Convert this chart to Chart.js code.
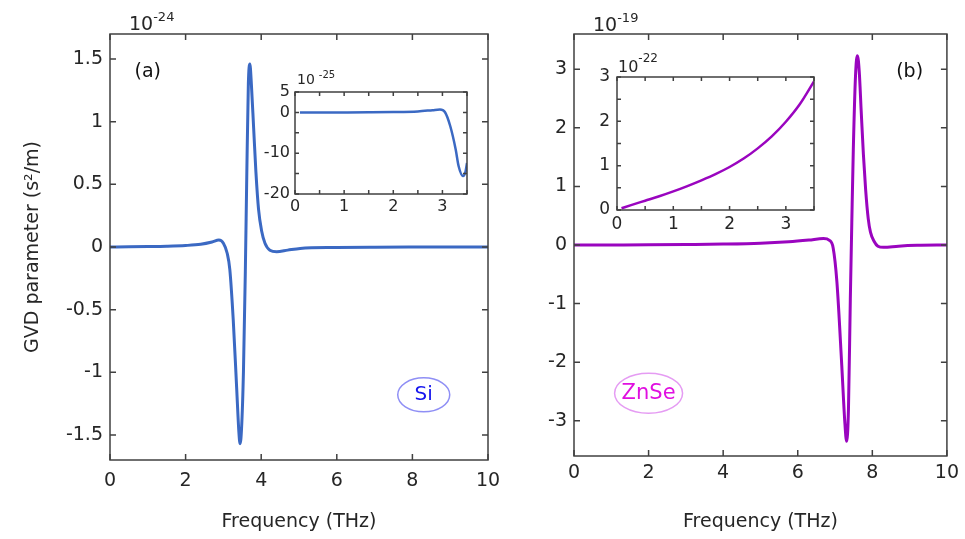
<!DOCTYPE html>
<html>
<head>
<meta charset="utf-8">
<script src="https://cdn.jsdelivr.net/npm/chart.js@4.4.1/dist/chart.umd.min.js"></script>
<style>
  body { margin: 0; background: #fff; }
  #wrap { position: relative; width: 965px; height: 539px; }
  canvas { position: absolute; left: 0; top: 0; }
</style>
</head>
<body>
<div id="wrap">
  <canvas id="mainA" width="965" height="539"></canvas>
  <canvas id="mainB" width="965" height="539"></canvas>
  <canvas id="insetA" width="965" height="539"></canvas>
  <canvas id="insetB" width="965" height="539"></canvas>
</div>
<script>
// Si, GVD in units of 1e-24 s^2/m
const siFreq = [0, 0.5, 1, 1.5, 2, 2.4, 2.7, 2.88, 3.0, 3.1, 3.17, 3.26, 3.35, 3.41, 3.44, 3.48, 3.53, 3.58, 3.62, 3.66, 3.70, 3.74, 3.8, 3.86, 3.93, 4.01, 4.1, 4.23, 4.41, 4.7, 5.03, 6, 7, 8, 10];
const siGvd = [0, 0.001, 0.003, 0.006, 0.012, 0.022, 0.04, 0.055, 0.03, -0.05, -0.18, -0.58, -1.12, -1.48, -1.57, -1.45, -1.0, -0.2, 0.6, 1.3, 1.46, 1.3, 0.95, 0.6, 0.3, 0.13, 0.03, -0.025, -0.037, -0.025, -0.012, -0.004, -0.001, 0, 0];

// Si inset, units of 1e-25 s^2/m
const siInsetFreq = [0.1, 1, 1.5, 2, 2.5, 2.8, 2.95, 3.05, 3.16, 3.27, 3.33, 3.42, 3.47, 3.5];
const siInsetGvd = [0, 0, 0.02, 0.08, 0.25, 0.55, 0.7, 0.1, -3.4, -9.1, -13.2, -15.6, -14.5, -12.4];

// ZnSe, units of 1e-19 s^2/m
const znseFreq = [0, 1, 2, 3, 4, 5, 5.76, 6.3, 6.69, 6.85, 6.95, 7.05, 7.18, 7.26, 7.31, 7.36, 7.41, 7.45, 7.49, 7.55, 7.6, 7.65, 7.7, 7.76, 7.82, 7.89, 7.95, 8.05, 8.15, 8.3, 8.7, 9.2, 10];
const znseGvd = [0, 0.001, 0.003, 0.008, 0.015, 0.03, 0.056, 0.085, 0.11, 0.08, -0.05, -0.63, -2.05, -3.0, -3.35, -2.8, -0.92, 0.4, 1.63, 2.9, 3.23, 2.95, 2.3, 1.55, 0.95, 0.45, 0.22, 0.06, -0.02, -0.04, -0.02, -0.006, 0];

// ZnSe inset, units of 1e-22 s^2/m
const znseInsetFreq = [0.08, 0.25, 0.5, 0.75, 1, 1.25, 1.5, 1.75, 2, 2.25, 2.5, 2.75, 3, 3.25, 3.5];
const znseInsetGvd = [0.04, 0.11, 0.21, 0.31, 0.42, 0.54, 0.67, 0.81, 0.97, 1.16, 1.39, 1.66, 1.99, 2.39, 2.9];

// tick values
const mainXTicks = [0, 2, 4, 6, 8, 10];
const siYTicks = [-1.5, -1, -0.5, 0, 0.5, 1, 1.5];
const znseYTicks = [-3, -2, -1, 0, 1, 2, 3];
const insetXTicks = [0, 0.5, 1, 1.5, 2, 2.5, 3, 3.5];
const insetXLabels = [0, 1, 2, 3];
const siInsetYTicks = [-20, -15, -10, -5, 0, 5];
const siInsetYLabels = [-20, -10, 0, 5];
const znseInsetYTicks = [0, 0.5, 1, 1.5, 2, 2.5, 3];
const znseInsetYLabels = [0, 1, 2, 3];

const textColor = '#262626';
const axisColor = '#404040';
const fontFamily = 'DejaVu Sans';

const toPoints = (xs, ys) => xs.map((x, i) => ({ x: x, y: ys[i] }));
const setTicks = list => scale => { scale.ticks = list.map(v => ({ value: v })); };
const labelOnly = list => v => (list.includes(v) ? String(v) : '');

// box, inward ticks on all sides, exponent label, text notes
const framePlugin = {
  id: 'frame',
  beforeDraw(chart, args, opts) {
    const { ctx, chartArea: a } = chart;
    if (opts.fill) {
      ctx.save();
      ctx.fillStyle = '#fff';
      ctx.fillRect(a.left, a.top, a.width, a.height);
      ctx.restore();
    }
  },
  afterDraw(chart, args, opts) {
    const { ctx, chartArea: a, scales: { x, y } } = chart;
    const len = opts.tickLength;
    ctx.save();
    ctx.strokeStyle = axisColor;
    ctx.lineWidth = 1.5;
    ctx.beginPath();
    x.ticks.forEach(t => {
      const px = x.getPixelForValue(t.value);
      ctx.moveTo(px, a.bottom); ctx.lineTo(px, a.bottom - len);
      ctx.moveTo(px, a.top); ctx.lineTo(px, a.top + len);
    });
    y.ticks.forEach(t => {
      const py = y.getPixelForValue(t.value);
      ctx.moveTo(a.left, py); ctx.lineTo(a.left + len, py);
      ctx.moveTo(a.right, py); ctx.lineTo(a.right - len, py);
    });
    ctx.stroke();
    ctx.strokeRect(a.left, a.top, a.width, a.height);

    // exponent like 10^-24
    const e = opts.exponent;
    ctx.fillStyle = textColor;
    ctx.textBaseline = 'alphabetic';
    ctx.textAlign = 'left';
    ctx.font = e.size + 'px "' + fontFamily + '"';
    const bx = a.left + e.dx, by = a.top + e.dy;
    ctx.fillText('10', bx, by);
    const w = ctx.measureText('10').width;
    ctx.font = e.supSize + 'px "' + fontFamily + '"';
    ctx.fillText(e.power, bx + w + e.gap, by - e.rise);

    // notes in data coordinates
    (opts.notes || []).forEach(n => {
      const px = x.getPixelForValue(n.x), py = y.getPixelForValue(n.y);
      if (n.ellipse) {
        ctx.beginPath();
        ctx.strokeStyle = n.ellipse;
        ctx.lineWidth = 1.5;
        ctx.ellipse(px, py, n.rx, n.ry, 0, 0, Math.PI * 2);
        ctx.stroke();
      }
      ctx.fillStyle = n.color;
      ctx.font = n.size + 'px "' + fontFamily + '"';
      ctx.textAlign = 'center';
      ctx.textBaseline = 'middle';
      ctx.fillText(n.text, px, py);
    });
    ctx.restore();
  }
};
Chart.register(framePlugin);

function axisFont(size) { return { family: fontFamily, size: size }; }

function makeChart(id, cfg) {
  return new Chart(document.getElementById(id), {
    type: 'line',
    data: {
      datasets: [{
        data: cfg.points,
        borderColor: cfg.color,
        borderWidth: cfg.lineWidth,
        pointRadius: 0,
        cubicInterpolationMode: 'monotone',
        fill: false
      }]
    },
    options: {
      responsive: false,
      animation: false,
      events: [],
      layout: { padding: cfg.padding },
      plugins: {
        legend: { display: false },
        tooltip: { enabled: false },
        frame: cfg.frame
      },
      scales: {
        x: {
          type: 'linear',
          min: cfg.xMin, max: cfg.xMax,
          afterBuildTicks: setTicks(cfg.xTicks),
          afterFit: s => { s.height = cfg.xHeight; },
          grid: { display: false, drawTicks: false },
          border: { display: false },
          ticks: {
            autoSkip: false, maxRotation: 0, padding: cfg.xPad,
            color: textColor, font: axisFont(cfg.fontSize),
            callback: cfg.xLabel
          },
          title: cfg.xTitle ? {
            display: true, text: cfg.xTitle, color: textColor,
            font: axisFont(19), padding: { top: 0, bottom: 6 }
          } : { display: false }
        },
        y: {
          type: 'linear',
          min: cfg.yMin, max: cfg.yMax,
          afterBuildTicks: setTicks(cfg.yTicks),
          afterFit: s => { s.width = cfg.yWidth; },
          grid: { display: false, drawTicks: false },
          border: { display: false },
          ticks: {
            autoSkip: false, padding: cfg.yPad,
            color: textColor, font: axisFont(cfg.fontSize),
            callback: cfg.yLabel
          },
          title: cfg.yTitle ? {
            display: true, text: cfg.yTitle, color: textColor,
            font: axisFont(19), padding: { top: 4, bottom: 0 }
          } : { display: false }
        }
      }
    }
  });
}

// (a) Si
makeChart('mainA', {
  points: toPoints(siFreq, siGvd), color: '#3b69c3', lineWidth: 3,
  padding: { left: 18, right: 477, top: 34, bottom: 0 },
  xMin: 0, xMax: 10, yMin: -1.7, yMax: 1.7,
  xTicks: mainXTicks, yTicks: siYTicks,
  xLabel: v => String(v), yLabel: v => String(v),
  xHeight: 79, yWidth: 92, xPad: 10, yPad: 7, fontSize: 19,
  xTitle: 'Frequency (THz)', yTitle: 'GVD parameter (s²/m)',
  frame: {
    tickLength: 6,
    exponent: { dx: 19, dy: -4, size: 19, supSize: 13, gap: 0, power: '-24', rise: 9 },
    notes: [
      { text: '(a)', x: 1.0, y: 1.4, size: 19, color: '#111' },
      { text: 'Si', x: 8.3, y: -1.18, size: 20, color: '#1515ee', ellipse: '#8f8ff5', rx: 26, ry: 17 }
    ]
  }
});

// (b) ZnSe
makeChart('mainB', {
  points: toPoints(znseFreq, znseGvd), color: '#9a05bf', lineWidth: 3,
  padding: { left: 500, right: 16, top: 34, bottom: 0 },
  xMin: 0, xMax: 10, yMin: -3.6, yMax: 3.6,
  xTicks: mainXTicks, yTicks: znseYTicks,
  xLabel: v => String(v), yLabel: v => String(v),
  xHeight: 83, yWidth: 74, xPad: 6, yPad: 7, fontSize: 19,
  xTitle: 'Frequency (THz)',
  frame: {
    tickLength: 6,
    exponent: { dx: 19, dy: -3, size: 19, supSize: 13, gap: 0, power: '-19', rise: 9 },
    notes: [
      { text: '(b)', x: 9.0, y: 2.95, size: 19, color: '#111' },
      { text: 'ZnSe', x: 2.0, y: -2.53, size: 21, color: '#e010e0', ellipse: '#e59cf3', rx: 34, ry: 20 }
    ]
  }
});

// Si inset
makeChart('insetA', {
  points: toPoints(siInsetFreq, siInsetGvd), color: '#3b69c3', lineWidth: 2.5,
  padding: { left: 255, right: 498, top: 92, bottom: 315 },
  xMin: 0, xMax: 3.5, yMin: -20, yMax: 5,
  xTicks: insetXTicks, yTicks: siInsetYTicks,
  xLabel: labelOnly(insetXLabels), yLabel: labelOnly(siInsetYLabels),
  xHeight: 30, yWidth: 40, xPad: 3, yPad: 5, fontSize: 16,
  frame: {
    fill: true, tickLength: 4,
    exponent: { dx: 2, dy: -8, size: 14, supSize: 10, gap: 4, power: '-25', rise: 6 }
  }
});

// ZnSe inset
makeChart('insetB', {
  points: toPoints(znseInsetFreq, znseInsetGvd), color: '#9a05bf', lineWidth: 2.5,
  padding: { left: 577, right: 151, top: 77, bottom: 299 },
  xMin: 0, xMax: 3.5, yMin: 0, yMax: 3,
  xTicks: insetXTicks, yTicks: znseInsetYTicks,
  xLabel: labelOnly(insetXLabels), yLabel: labelOnly(znseInsetYLabels),
  xHeight: 30, yWidth: 40, xPad: 4, yPad: 7, fontSize: 17,
  frame: {
    fill: true, tickLength: 4,
    exponent: { dx: 1, dy: -5, size: 16, supSize: 12, gap: 0, power: '-22', rise: 10 }
  }
});
</script>
</body>
</html>
